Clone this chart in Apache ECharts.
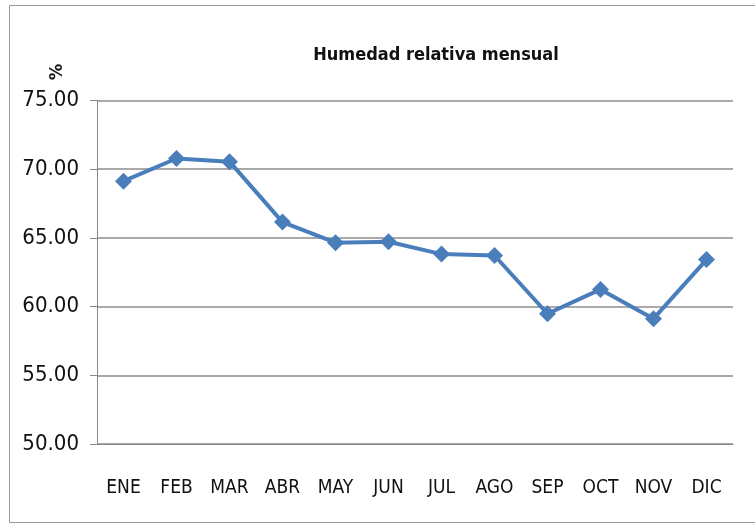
<!DOCTYPE html>
<html>
<head>
<meta charset="utf-8">
<script src="https://cdn.jsdelivr.net/npm/echarts@6/dist/echarts.min.js"></script>
<style>
  html, body { margin: 0; padding: 0; background: #ffffff; }
  #chart { width: 755px; height: 525px; }
</style>
</head>
<body>
<div id="chart"></div>
<script>
// Monthly relative humidity (%)
const months = ['ENE', 'FEB', 'MAR', 'ABR', 'MAY', 'JUN', 'JUL', 'AGO', 'SEP', 'OCT', 'NOV', 'DIC'];
const humidity = [69.13, 70.78, 70.55, 66.15, 64.65, 64.72, 63.82, 63.72, 59.48, 61.25, 59.12, 63.42];
const chartTitle = 'Humedad relativa mensual';
const unitLabel = '%';

const narrow = '"Liberation Sans Narrow", "DejaVu Sans Condensed", "Open Sans", sans-serif';

const chart = echarts.init(document.getElementById('chart'), null, { renderer: 'canvas' });

chart.setOption({
  backgroundColor: '#ffffff',
  animation: false,
  title: {
    text: chartTitle,
    left: 431,
    top: 41,
    textAlign: 'center',
    textStyle: { fontFamily: narrow, fontSize: 18, fontWeight: 'bold', color: '#111111' }
  },
  graphic: [
    {
      type: 'rect',
      shape: { x: 9.5, y: 5.5, width: 760, height: 517 },
      style: { fill: null, stroke: '#9a9a9a', lineWidth: 1 },
      silent: true
    },
    {
      type: 'text',
      x: 48,
      y: 80,
      rotation: Math.PI / 2,
      style: { text: unitLabel, fontFamily: narrow, fontSize: 18, fontWeight: 'bold', fill: '#111111' }
    }
  ],
  grid: { left: 97, right: 22, top: 100.5, bottom: 81, containLabel: false },
  xAxis: {
    type: 'category',
    data: months,
    boundaryGap: true,
    axisLine: { show: true, lineStyle: { color: '#888888', width: 1 } },
    axisTick: { show: false },
    axisLabel: { margin: 35, fontFamily: narrow, fontSize: 19, color: '#111111' }
  },
  yAxis: {
    type: 'value',
    min: 50,
    max: 75,
    interval: 5,
    axisLine: { show: true, lineStyle: { color: '#888888', width: 1 } },
    axisTick: { show: true, inside: false, length: 7, lineStyle: { color: '#888888' } },
    splitLine: { show: true, lineStyle: { color: '#8c8c8c', width: 1.5 } },
    axisLabel: {
      margin: 18,
      fontFamily: narrow,
      fontSize: 22,
      color: '#111111',
      formatter: v => v.toFixed(2)
    }
  },
  series: [{
    type: 'line',
    data: humidity,
    symbol: 'diamond',
    symbolSize: 17,
    lineStyle: { color: '#4a7ebb', width: 4 },
    itemStyle: { color: '#4a7ebb' }
  }]
});
</script>
</body>
</html>
